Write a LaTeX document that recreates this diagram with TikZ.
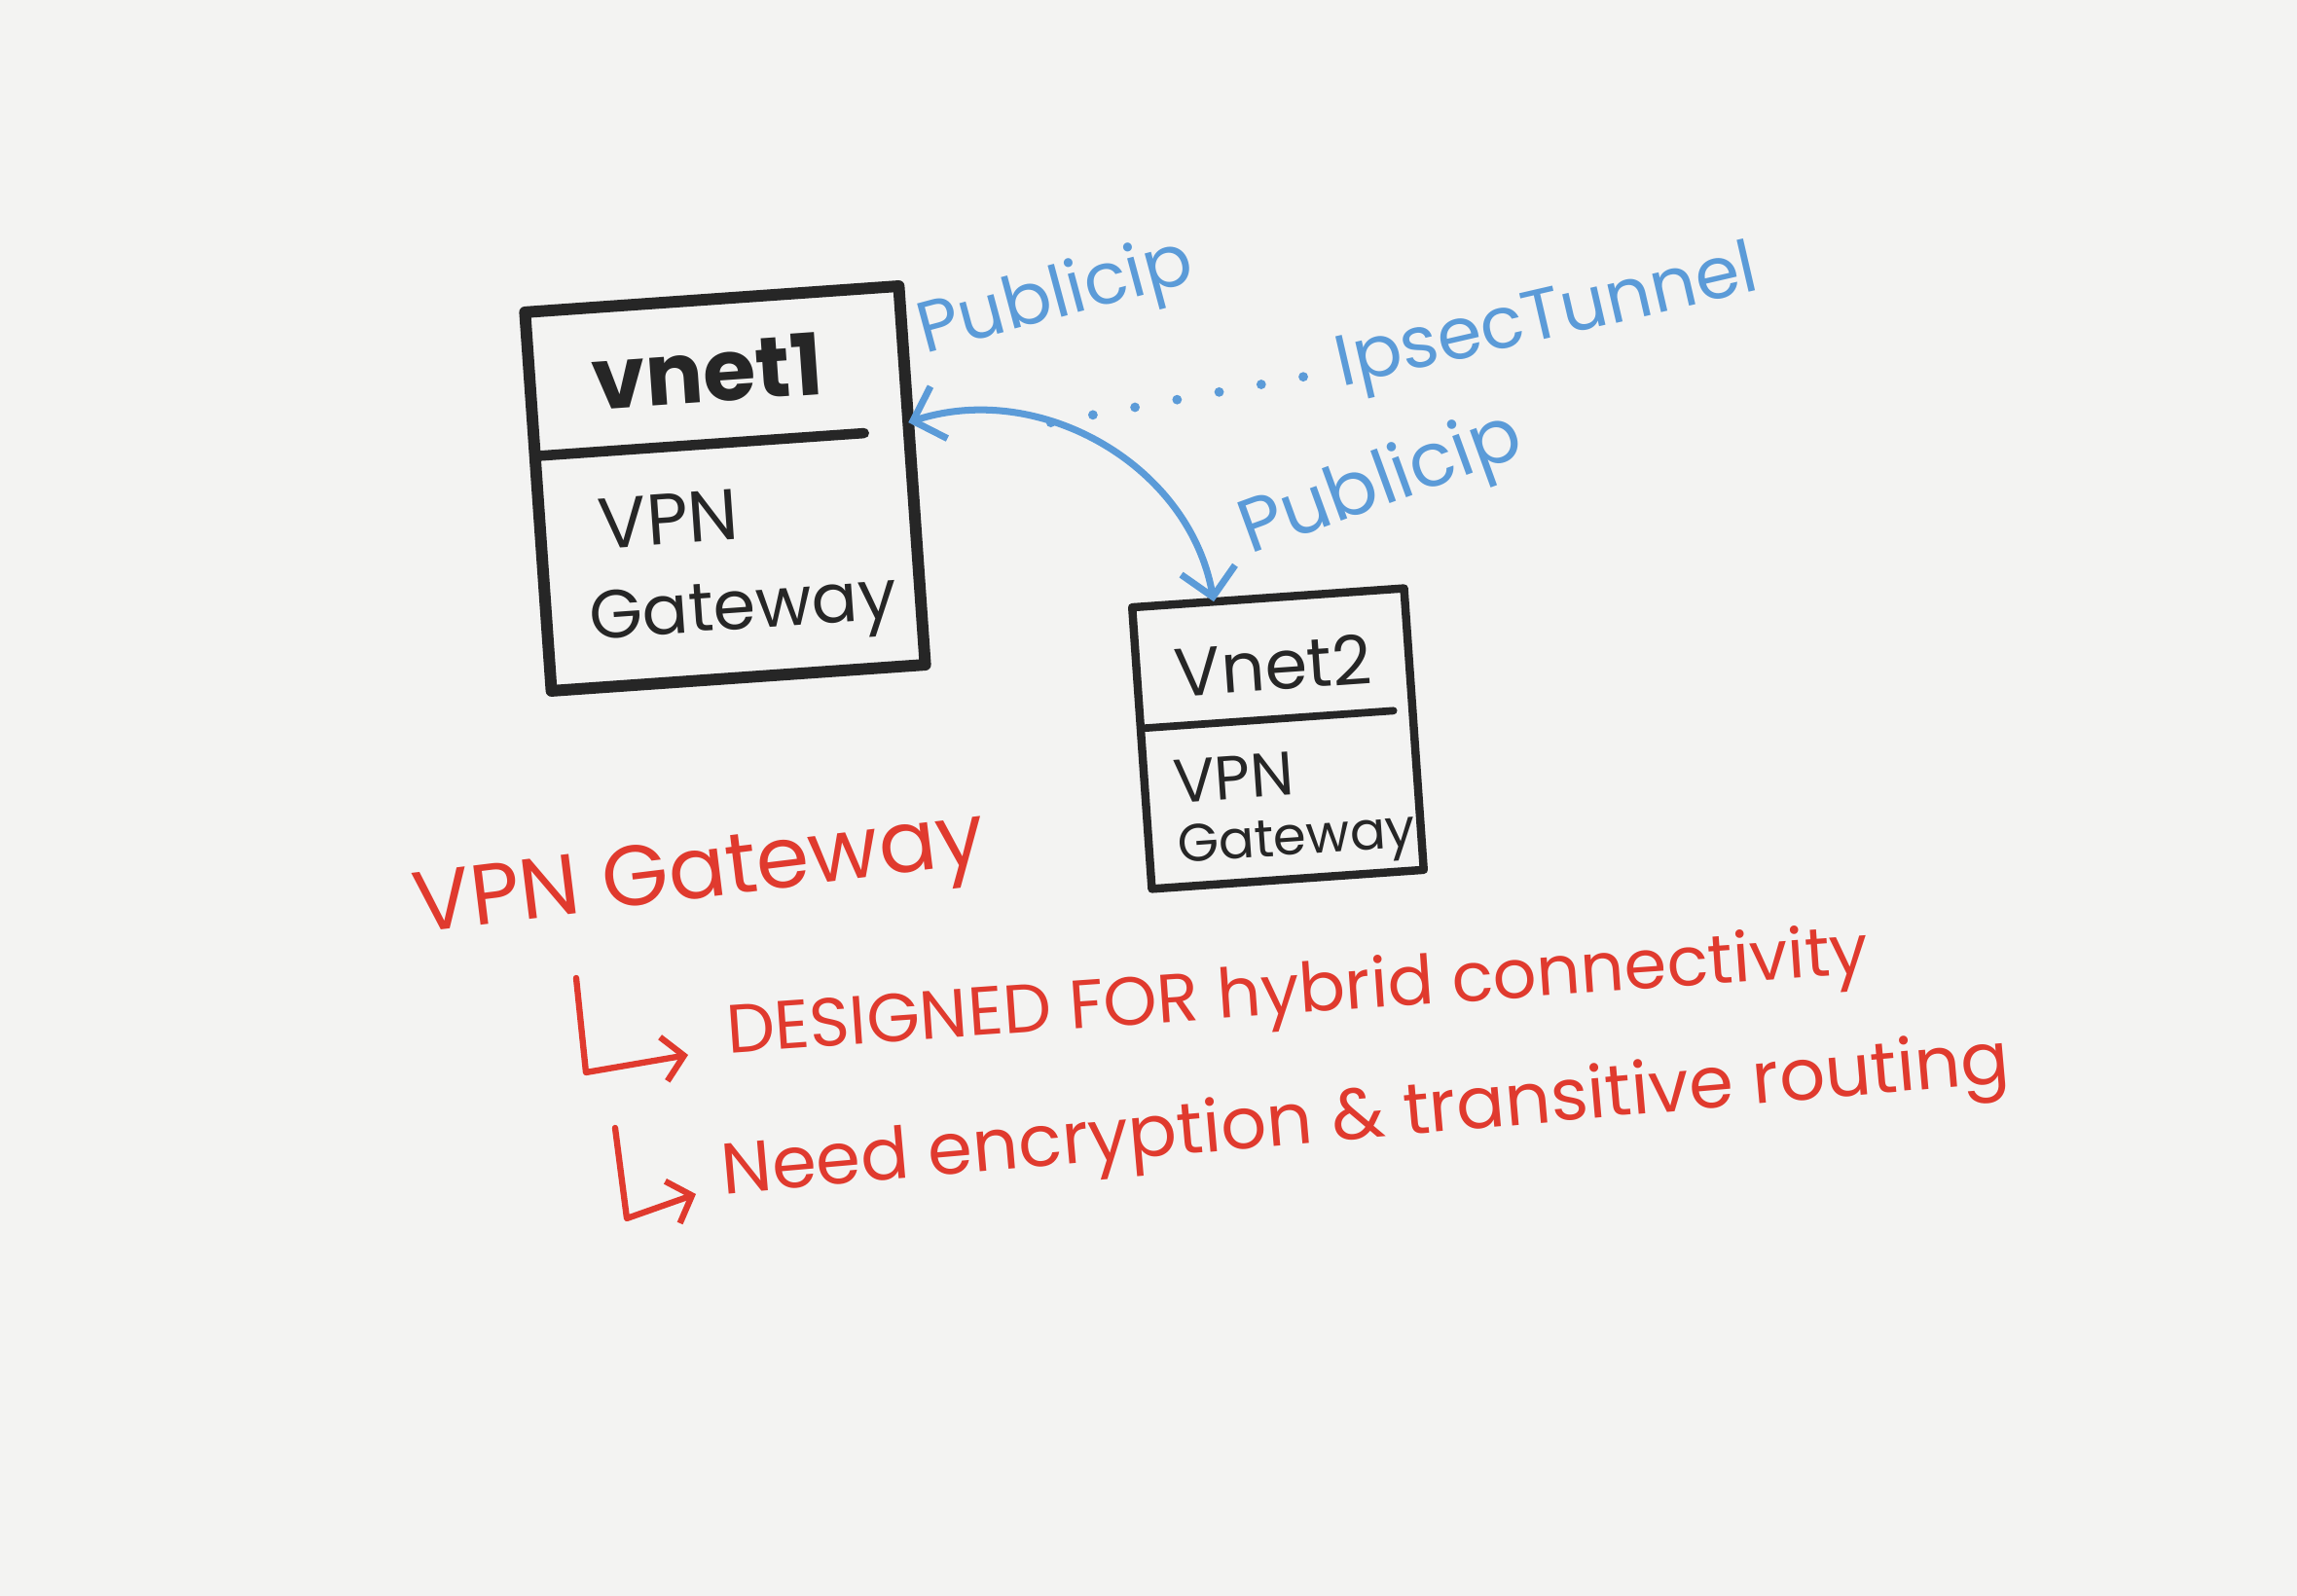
\documentclass[tikz,border=0pt]{standalone}
\usepackage{fontspec}
\setmainfont{Poppins}
\usetikzlibrary{calc,arrows.meta,positioning}
\definecolor{paper}{HTML}{F3F3F2}
\definecolor{ink}{HTML}{262626}
\definecolor{penblue}{HTML}{5B9BD8}
\definecolor{penred}{HTML}{E03A2E}

\begin{document}
\begin{tikzpicture}[every node/.style={outer sep=0pt}]
\tikzstyle{netbox}=[draw=ink,line width=3.4pt,line join=round,rotate=4]
\tikzstyle{divider}=[draw=ink,line cap=round]
\tikzstyle{inktext}=[text=ink,rotate=4,inner sep=0pt]
\tikzstyle{bluetext}=[text=penblue,inner sep=2pt]
\tikzstyle{redtext}=[text=penred,inner sep=2pt]
\tikzstyle{link}=[draw=penblue,line width=2pt,line cap=round,
   {Straight Barb[length=8pt,width=16pt]}-{Straight Barb[length=8pt,width=16pt]}]
\tikzstyle{tunnel}=[draw=penblue,line width=2.8pt,line cap=round,dash pattern=on 0pt off 12.5pt]
\tikzstyle{bullet}=[draw=penred,line width=1.8pt,line cap=round,line join=round,
   -{Straight Barb[length=6pt,width=13pt]}]

\fill[paper] (0,0) rectangle (23.6,16.4);
\useasboundingbox (0,0) rectangle (23.6,16.4);

% vnet 1
\node (vnet1) [netbox,minimum width=3.85cm,minimum height=3.9cm] at (7.45,11.38) {};
\draw [divider,line width=3pt]
   ($(vnet1.north west)!0.38!(vnet1.south west)$) -- ($(vnet1.north west)!0.38!(vnet1.south west)!0.88!($(vnet1.north east)!0.38!(vnet1.south east)$)$);
\node (v1name) [inktext,font=\bfseries\fontsize{25}{28}\selectfont]
   at ($(vnet1.north)!0.19!(vnet1.south)+(-0.1,0)$) {vnet1};
\node (v1vpn) [inktext,font=\fontsize{21}{24}\selectfont,anchor=west]
   at ($(vnet1.north west)!0.56!(vnet1.south west)+(0.6,0)$) {VPN};
\node (v1gw) [inktext,font=\fontsize{20}{24}\selectfont]
   at ($(vnet1.north)!0.83!(vnet1.south)+(0.1,0)$) {Gateway};

% vnet 2
\node (vnet2) [netbox,line width=2.4pt,minimum width=2.8cm,minimum height=2.9cm] at (13.13,8.81) {};
\draw [divider,line width=2.2pt]
   ($(vnet2.north west)!0.43!(vnet2.south west)$) -- ($(vnet2.north west)!0.43!(vnet2.south west)!0.93!($(vnet2.north east)!0.43!(vnet2.south east)$)$);
\node (v2name) [inktext,font=\fontsize{20}{24}\selectfont]
   at ($(vnet2.north)!0.24!(vnet2.south)$) {Vnet2};
\node (v2vpn) [inktext,font=\fontsize{18}{20}\selectfont,anchor=west]
   at ($(vnet2.north west)!0.62!(vnet2.south west)+(0.3,0)$) {VPN};
\node (v2gw) [inktext,font=\fontsize{15.5}{18}\selectfont]
   at ($(vnet2.north)!0.87!(vnet2.south)+(0.12,0)$) {Gateway};

% public ips and the tunnel
\coordinate (ip1) at ($(vnet1.north east)!0.36!(vnet1.south east)$);
\coordinate (ip2) at ($(vnet2.north west)!0.3!(vnet2.north east)$);
\draw [link] (ip1) to[out=18,in=100] coordinate[pos=0.36] (tun) (ip2);

\node (pip1) [bluetext,rotate=15,font=\fontsize{21}{24}\selectfont] at (10.85,13.32) {Publicip};
\node (pip2) [bluetext,rotate=20,font=\fontsize{22}{26}\selectfont] at (14.2,11.4) {Publicip};
\node (ipsec) [bluetext,rotate=13,inner sep=6pt,font=\fontsize{21}{25}\selectfont] at (15.9,13.1) {IpsecTunnel};
\draw [tunnel] (tun) -- (ipsec.west);

% notes
\node (vpngw) [redtext,rotate=7,font=\fontsize{25}{30}\selectfont] at (7.19,7.37) {VPN Gateway};

\node (note1) [redtext,rotate=4,anchor=west,font=\fontsize{20}{24}\selectfont]
   at (7.4,5.75) {DESIGNED FOR hybrid connectivity};
\coordinate (n1top) at (5.92,6.35);
\coordinate (n1bend) at (6.02,5.38);
\coordinate (n1tip) at (7.07,5.56);
\draw [bullet] (n1top) -- (n1bend) -- (n1tip);

\node (note2) [redtext,rotate=5,anchor=west,font=\fontsize{21}{25}\selectfont]
   at (7.35,4.3) {Need encryption \& transitive routing};
\coordinate (n2top) at (6.32,4.81);
\coordinate (n2bend) at (6.44,3.88);
\coordinate (n2tip) at (7.15,4.13);
\draw [bullet] (n2top) -- (n2bend) -- (n2tip);

\end{tikzpicture}
\end{document}
